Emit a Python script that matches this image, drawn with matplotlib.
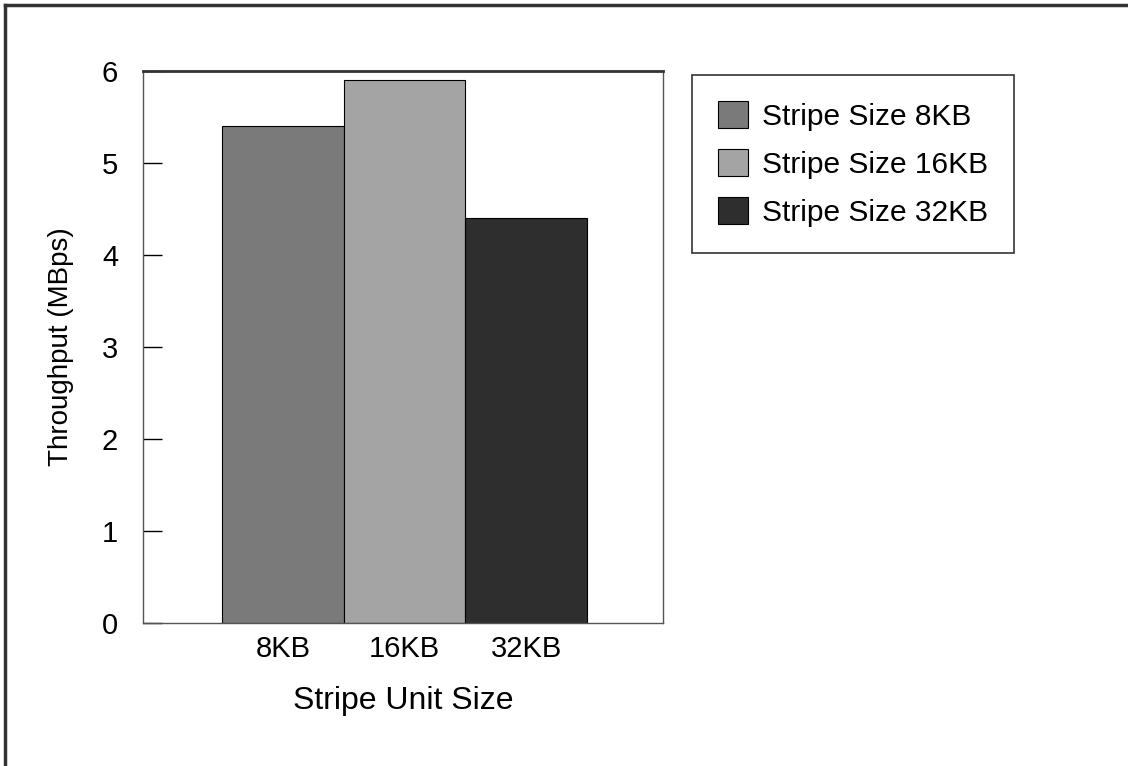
import matplotlib
matplotlib.use("Agg")
import matplotlib.pyplot as plt
from matplotlib.lines import Line2D

# datos
categorias = ['8KB', '16KB', '32KB']
series = ['Stripe Size 8KB', 'Stripe Size 16KB', 'Stripe Size 32KB']
throughput = [5.4, 5.9, 4.4]
colores = ['#7a7a7a', '#a4a4a4', '#2e2e2e']

plt.rcParams['font.family'] = ['Liberation Sans', 'DejaVu Sans']

fig = plt.figure(figsize=(11.28, 7.66), dpi=100)
ax = fig.add_axes([0.1268, 0.1867, 0.461, 0.7206])

pos = list(range(len(categorias)))
barras = []
for i, (v, c, s) in enumerate(zip(throughput, colores, series)):
    b = ax.bar(pos[i], v, width=1.0, color=c, edgecolor='black', linewidth=0.8, label=s)
    barras.append(b)

ax.set_xlim(-1.153, 3.128)
ax.set_ylim(0, 6)
ax.set_yticks(range(0, 7))
ax.set_xticks(pos)
ax.set_xticklabels(categorias)
ax.tick_params(axis='x', length=0, pad=9, labelsize=21)
ax.tick_params(axis='y', direction='in', length=14, width=1, pad=18, labelsize=21)
# unica marca visible en el eje x
ax.set_xticks([1], minor=True)
ax.tick_params(axis='x', which='minor', direction='in', length=9, width=1)

ax.set_xlabel('Stripe Unit Size', fontsize=23, labelpad=16)
ax.set_ylabel('Throughput (MBps)', fontsize=20, labelpad=20)

ax.spines['top'].set_linewidth(2)
ax.spines['top'].set_color('#333333')
for lado in ['left', 'right', 'bottom']:
    ax.spines[lado].set_linewidth(1)
    ax.spines[lado].set_color('#555555')

leg = fig.legend(handles=[b[0] for b in barras], labels=series,
                 loc='upper left', bbox_to_anchor=(692 / 1128, 1 - 75 / 766),
                 fontsize=21.5, frameon=True, fancybox=False, shadow=False,
                 handlelength=1.0, handleheight=1.0, handletextpad=0.45,
                 labelspacing=0.62, borderpad=0.88, borderaxespad=0)
leg.get_frame().set_edgecolor('black')
leg.get_frame().set_linewidth(1.2)

# marco exterior (solo lados izquierdo y superior visibles)
fig.add_artist(Line2D([5 / 1128, 5 / 1128], [0, 1 - 5 / 766], transform=fig.transFigure,
                      color='#333333', linewidth=2.5))
fig.add_artist(Line2D([5 / 1128, 1], [1 - 5 / 766, 1 - 5 / 766], transform=fig.transFigure,
                      color='#333333', linewidth=2.5))

fig.savefig('out.png', dpi=100)
